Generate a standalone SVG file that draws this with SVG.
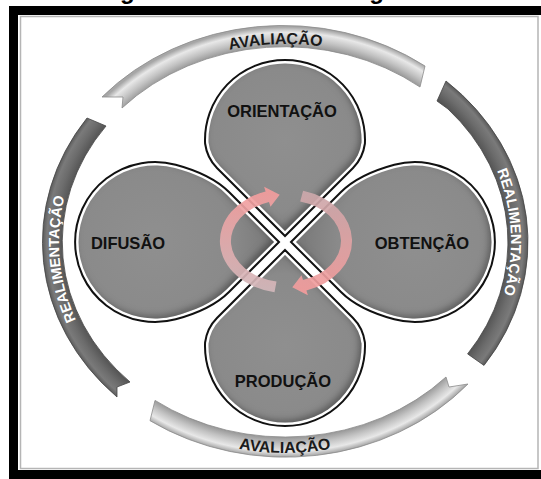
<svg xmlns="http://www.w3.org/2000/svg" width="541" height="479" viewBox="0 0 541 479">
<defs>
<style>
.lbl{font-family:"Liberation Sans",Arial,sans-serif;font-weight:bold;font-size:16.5px;fill:#111;text-anchor:middle}
.rl{font-family:"Liberation Sans",Arial,sans-serif;font-weight:bold;text-anchor:middle}
.eval{font-size:16px;fill:#1a1a1a}
.feed{font-size:14.5px;fill:#fff}
.lobe-out{fill:#fff;stroke:#111;stroke-width:2}
.lobe-in{fill:url(#lobeGrad)}
.lobe-in2{fill:url(#lobeGrad2)}
.light{fill:url(#lightRing);stroke:#8a8a8a;stroke-width:.8}
.dark{fill:url(#darkRing);stroke:#444;stroke-width:.8}
</style>
<radialGradient id="lobeGrad" gradientUnits="userSpaceOnUse" cx="0" cy="-102" r="96">
<stop offset="0" stop-color="#8f8f8f"/><stop offset="0.75" stop-color="#8a8a8a"/><stop offset="1" stop-color="#7c7c7c"/>
</radialGradient>
<radialGradient id="lobeGrad2" gradientUnits="userSpaceOnUse" cx="0" cy="-130" r="110">
<stop offset="0" stop-color="#8f8f8f"/><stop offset="0.7" stop-color="#8a8a8a"/><stop offset="1" stop-color="#7c7c7c"/>
</radialGradient>
<radialGradient id="lightRing" gradientUnits="userSpaceOnUse" cx="285" cy="242" r="243" gradientTransform="translate(285 242) scale(1 0.885) translate(-285 -242)">
<stop offset="0.9" stop-color="#8e8e8e"/><stop offset="0.94" stop-color="#c2c2c2"/><stop offset="0.975" stop-color="#e8e8e8"/><stop offset="1" stop-color="#a6a6a6"/>
</radialGradient>
<radialGradient id="darkRing" gradientUnits="userSpaceOnUse" cx="285" cy="242" r="243" gradientTransform="translate(285 242) scale(1 0.885) translate(-285 -242)">
<stop offset="0.9" stop-color="#4c4c4c"/><stop offset="0.95" stop-color="#6c6c6c"/><stop offset="0.98" stop-color="#7a7a7a"/><stop offset="1" stop-color="#585858"/>
</radialGradient>
<linearGradient id="arrL" gradientUnits="userSpaceOnUse" x1="0" y1="188" x2="0" y2="292">
<stop offset="0" stop-color="#f59c9c"/><stop offset="1" stop-color="#d2b8bb"/>
</linearGradient>
<linearGradient id="arrR" gradientUnits="userSpaceOnUse" x1="0" y1="190" x2="0" y2="295">
<stop offset="0" stop-color="#cba9ac"/><stop offset="1" stop-color="#f59c9c"/>
</linearGradient>
<filter id="inset" x="-10%" y="-10%" width="120%" height="120%">
<feComponentTransfer in="SourceAlpha" result="inv"><feFuncA type="table" tableValues="1 0"/></feComponentTransfer>
<feOffset in="inv" dx="-3" dy="-3" result="off"/>
<feGaussianBlur in="off" stdDeviation="3" result="blur"/>
<feFlood flood-color="#000" flood-opacity="0.55"/>
<feComposite in2="blur" operator="in"/>
<feComposite in2="SourceAlpha" operator="in" result="shadow"/>
<feMerge><feMergeNode in="SourceGraphic"/><feMergeNode in="shadow"/></feMerge>
</filter>
<path id="lobeOuter" d="M 0,-6 L -68.03,-74.03 Q -77.93,-83.93 -79.92,-98.51 A 80 80 0 1 1 79.92,-98.51 Q 77.93,-83.93 68.03,-74.03 Z"/>
<path id="lobeInner" d="M 0,-11 L -64.86,-75.86 Q -74.76,-85.76 -76.46,-99.6 A 76.5 76.5 0 1 1 76.46,-99.6 Q 74.76,-85.76 64.86,-75.86 Z"/>
<path id="sideOuter" d="M 0,-6 L -50,-56 C -64.1,-70.1 -72.1,-90 -77.3,-109.3 A 80 80 0 1 1 77.3,-109.3 C 72.1,-90 64.1,-70.1 50,-56 Z"/>
<path id="sideInner" d="M 0,-11 L -47.5,-58.5 C -60.9,-71.9 -69,-91.8 -73.9,-110.2 A 76.5 76.5 0 1 1 73.9,-110.2 C 69,-91.8 60.9,-71.9 47.5,-58.5 Z"/>
<path id="tpTop" d="M 55,242 A 230 198 0 0 1 515,242"/>
<path id="tpBottom" d="M 52,242 A 233 211 0 0 0 518,242"/>
<path id="tpLeft" d="M 111.9,373.8 A 226 205 0 0 1 111.9,110.2"/>
<path id="tpRight" d="M 458.1,110.2 A 226 205 0 0 1 458.1,373.8"/>
</defs>

<rect width="541" height="479" fill="#fff"/>
<text x="272" y="-1" font-family="'Liberation Sans',Arial,sans-serif" font-weight="bold" font-size="24" text-anchor="middle" fill="#000">Figura 1 - Ciclo da Inteligência</text>
<rect x="9" y="6" width="532" height="473" fill="#000"/>
<rect x="18" y="15" width="523" height="455" fill="#fff"/>
<rect x="20.5" y="16.5" width="517.5" height="452" fill="none" stroke="#b5b5b5" stroke-width="1.5"/>

<g id="ring">
<path class="light" d="M 102,97 A 243 215 0 0 1 425,66 L 420,87 A 223 195 0 0 0 122,108 L 123,97 Z"/>
<path class="dark" d="M 446,81 A 243 215 0 0 1 484,365.4 L 467.6,353.9 A 223 195 0 0 0 448,109 L 437,101 Z"/>
<path class="light" d="M 468,384 A 243 215 0 0 1 150,420.7 L 155,400.4 A 223 195 0 0 0 446,377 L 449,387 Z"/>
<path class="dark" d="M 87,118 A 243 215 0 0 0 117,397 L 117,387 L 130,382 A 223 195 0 0 1 106,126 Z"/>
<text class="rl eval"><textPath href="#tpTop" startOffset="48.6%">AVALIAÇÃO</textPath></text>
<text class="rl eval"><textPath href="#tpBottom" startOffset="50%">AVALIAÇÃO</textPath></text>
<text class="rl feed"><textPath href="#tpLeft" startOffset="44%">REALIMENTAÇÃO</textPath></text>
<text class="rl feed"><textPath href="#tpRight" startOffset="46.5%">REALIMENTAÇÃO</textPath></text>
</g>

<g id="orientacao">
<use href="#lobeOuter" class="lobe-out" transform="translate(285 242)"/>
<g filter="url(#inset)"><use href="#lobeInner" class="lobe-in" transform="translate(285 242)"/></g>
<text class="lbl" x="282" y="117">ORIENTAÇÃO</text>
</g>
<g id="obtencao">
<use href="#sideOuter" class="lobe-out" transform="translate(285 242) rotate(90)"/>
<g filter="url(#inset)"><use href="#sideInner" class="lobe-in2" transform="translate(285 242) rotate(90)"/></g>
<text class="lbl" x="422" y="249">OBTENÇÃO</text>
</g>
<g id="producao">
<use href="#lobeOuter" class="lobe-out" transform="translate(285 244) rotate(180)"/>
<g filter="url(#inset)"><use href="#lobeInner" class="lobe-in" transform="translate(285 244) rotate(180)"/></g>
<text class="lbl" x="283" y="387">PRODUÇÃO</text>
</g>
<g id="difusao">
<use href="#sideOuter" class="lobe-out" transform="translate(285 242) rotate(270)"/>
<g filter="url(#inset)"><use href="#sideInner" class="lobe-in2" transform="translate(285 242) rotate(270)"/></g>
<text class="lbl" x="128" y="249">DIFUSÃO</text>
</g>

<g id="connectors" opacity="0.92">
<path fill="url(#arrL)" d="M 274.5,292.2 A 66 52 0 0 1 265.6,191.5 L 264.1,186.8 L 279.7,194.8 L 270.5,206.8 L 269,202 A 55 41 0 0 0 276.5,281.4 Z"/>
<path fill="url(#arrR)" d="M 303.1,190.8 A 66 52 0 0 1 306.4,290.5 L 307.9,295.2 L 292.3,287.2 L 301.5,275.2 L 303,280 A 55 41 0 0 0 300.2,201.4 Z"/>
</g>
</svg>
